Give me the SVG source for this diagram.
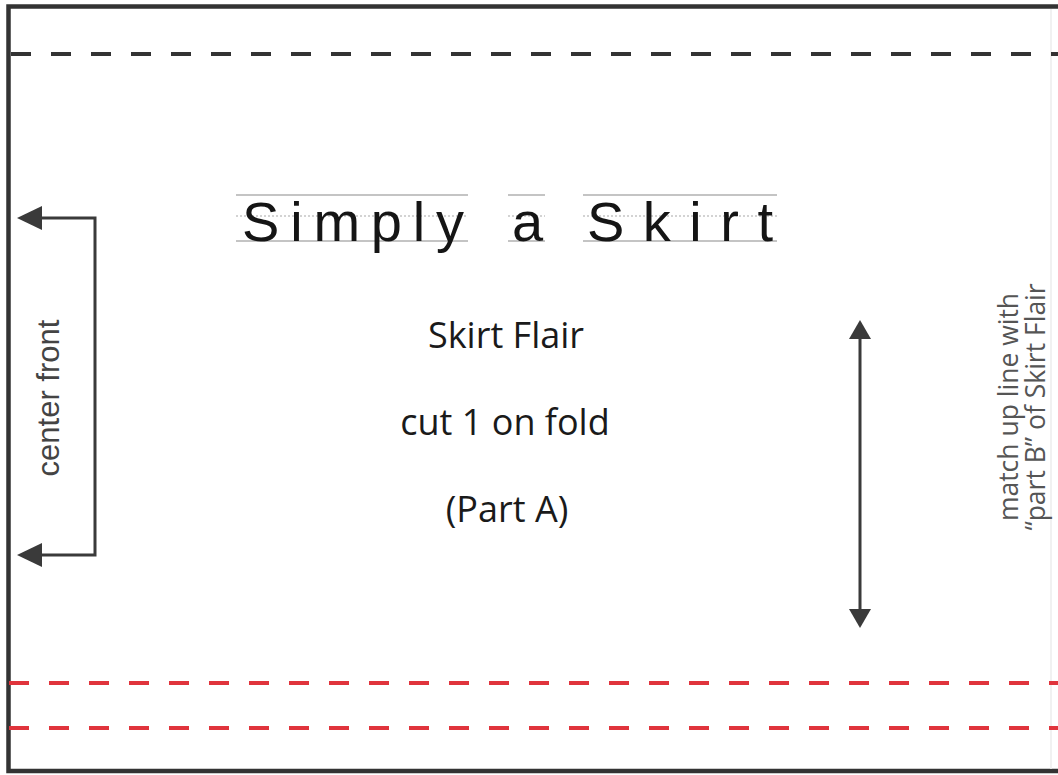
<svg xmlns="http://www.w3.org/2000/svg" width="1058" height="775" viewBox="0 0 1058 775">
<defs>
<style>
.border{fill:none;stroke:#333;stroke-width:4.5}
.dash{fill:none;stroke:#333;stroke-width:4;stroke-dasharray:20 20}
.red{fill:none;stroke:#e0343c;stroke-width:4;stroke-dasharray:20 20}
.conn{fill:none;stroke:#3a3a3a;stroke-width:3}
.head{fill:#3a3a3a}
.guide{stroke:#8a8a8a;stroke-width:1.2}
.dot{stroke:#a8a8a8;stroke-width:1.2;stroke-dasharray:2 2}
.title{font-family:"Liberation Sans",Arial,sans-serif;font-size:56px;fill:#151515}
.label{font-family:"Open Sans","Noto Sans",sans-serif;font-size:36px;fill:#1a1a1a;text-anchor:middle}
.side{font-family:"Liberation Sans",Arial,sans-serif;font-size:31px;fill:#444;text-anchor:middle}
.note{font-family:"Open Sans","Noto Sans",sans-serif;font-size:26.5px;fill:#555;text-anchor:middle}
</style>
</defs>
<rect width="1058" height="775" fill="#fff"/>
<g id="sheet">
<path class="border" d="M1062,6.5 H8.5 V771 H1062"/>
<line x1="1051" y1="9" x2="1051" y2="769" stroke="#ececec" stroke-width="1.5"/>
<line class="dash" x1="11" y1="54" x2="1062" y2="54"/>
<line class="red" x1="9" y1="683" x2="1062" y2="683"/>
<line class="red" x1="9" y1="728" x2="1062" y2="728"/>
</g>
<g id="title">
<line class="guide" x1="236" y1="195" x2="468" y2="195"/>
<line class="dot" x1="236" y1="216" x2="468" y2="216"/>
<line class="guide" x1="236" y1="241" x2="468" y2="241"/>
<line class="guide" x1="508" y1="195" x2="545" y2="195"/>
<line class="dot" x1="508" y1="216" x2="545" y2="216"/>
<line class="guide" x1="508" y1="241" x2="545" y2="241"/>
<line class="guide" x1="583" y1="195" x2="777" y2="195"/>
<line class="dot" x1="583" y1="216" x2="777" y2="216"/>
<line class="guide" x1="583" y1="241" x2="777" y2="241"/>
<text class="title" x="242" y="241" textLength="222" lengthAdjust="spacing">Simply</text>
<text class="title" x="512" y="241">a</text>
<text class="title" x="587" y="241" textLength="186" lengthAdjust="spacing">Skirt</text>
</g>
<g id="labels">
<text class="label" x="506" y="348">Skirt Flair</text>
<text class="label" x="505" y="435">cut 1 on fold</text>
<text class="label" x="507" y="522">(Part A)</text>
</g>
<g id="center-front">
<text class="side" transform="translate(59,398) rotate(-90)">center front</text>
</g>
<g id="match-note">
<text class="note" transform="translate(1018,407) rotate(-90)">match up line with</text>
<text class="note" transform="translate(1045,407) rotate(-90)">“part B” of Skirt Flair</text>
</g>
<g id="connectors">
<path class="conn" d="M40,218 H95 V555 H40"/>
<path class="head" d="M17,218 L42,206 L42,230 z"/>
<path class="head" d="M17,555 L42,543 L42,567 z"/>
<line class="conn" x1="860" y1="336" x2="860" y2="612"/>
<path class="head" d="M860,320 L849,339 L871,339 z"/>
<path class="head" d="M860,628 L849,609 L871,609 z"/>
</g>
</svg>
